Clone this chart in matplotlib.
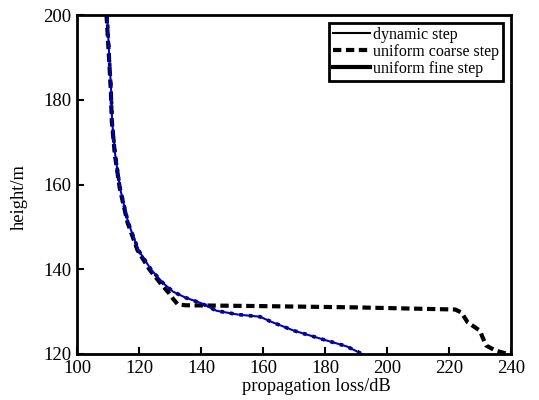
import matplotlib
matplotlib.use("Agg")
import matplotlib.pyplot as plt
from matplotlib.lines import Line2D

plt.rcParams["font.family"] = ["Liberation Serif", "DejaVu Serif"]

# propagation loss (dB) vs height (m)
dyn_loss = [109.7, 110.4, 111.0, 111.3, 112.3, 113.9, 116.5, 119.8, 124.0, 127.8,
            131.0, 135.0, 140.0, 145.0, 152.0, 159.0, 163.0, 170.0, 180.0, 187.0, 192.0]
dyn_height = [200, 190, 182, 175, 167, 159, 151, 144.5, 139.8, 136.7,
              134.7, 133.3, 132.0, 130.2, 129.3, 128.8, 127.5, 125.5, 123.3, 121.8, 120]

fine_loss = [109.7, 110.4, 111.0, 111.3, 112.3, 113.9, 116.5, 119.8, 124.0, 127.8,
             131.0, 135.0, 140.0, 145.0, 152.0, 159.0, 163.0, 170.0, 180.0, 187.0, 192.0]
fine_height = [200, 190, 182, 175, 167, 159, 151, 144.5, 139.8, 136.7,
               134.7, 133.3, 132.0, 130.2, 129.3, 128.8, 127.5, 125.5, 123.3, 121.8, 120]

coarse_loss = [109.5, 110.3, 110.9, 111.2, 112.2, 113.8, 116.3, 119.5, 123.3, 126.8,
               129.5, 131.0, 132.5, 135.0, 160.0, 190.0, 222.0, 224.0, 226.0, 230.0,
               230.8, 232.0, 235.0, 239.0]
coarse_height = [200, 190, 182, 175, 167, 159, 151, 144.5, 140, 136.8,
                 134.5, 133.0, 131.7, 131.5, 131.3, 131.0, 130.5, 129.8, 127.5, 125.5,
                 124, 122, 120.8, 120]

labels = ["dynamic step", "uniform coarse step", "uniform fine step"]

fig = plt.figure(figsize=(5.39, 4.0), dpi=100)
ax = fig.add_axes([0.143, 0.115, 0.805, 0.8475])

ax.plot(coarse_loss, coarse_height, color="black", lw=3, ls=(0, (2.0, 1.1)))
ax.plot(fine_loss, fine_height, color="black", lw=2.6, ls=":")
ax.plot(dyn_loss, dyn_height, color="#0000cc", lw=1.5)

ax.set_xlim(100, 240)
ax.set_ylim(120, 200)
ax.set_xticks(range(100, 241, 20))
ax.set_yticks(range(120, 201, 20))
ax.tick_params(direction="in", labelsize=13.5, width=1.5, length=5)
ax.tick_params(axis="x", pad=4)
ax.tick_params(axis="y", pad=4)
for s in ax.spines.values():
    s.set_linewidth(2)
ax.set_xlabel("propagation loss/dB", fontsize=13.3)
ax.set_ylabel("height/m", fontsize=13.3)
# labels sit off-centre in the reference
ax.xaxis.set_label_coords(0.551, -0.072)
ax.yaxis.set_label_coords(-0.113, 0.464)

handles = [
    Line2D([], [], color="black", lw=1.5),
    Line2D([], [], color="black", lw=3, ls=(0, (2.0, 1.1))),
    Line2D([], [], color="black", lw=3),
]
leg = ax.legend(handles, labels, loc="upper right", fontsize=11.5,
                handlelength=2.3, handletextpad=0.2, borderpad=0.25,
                labelspacing=0.05, borderaxespad=0.5, fancybox=False,
                framealpha=1, edgecolor="black")
leg.get_frame().set_linewidth(2)

fig.savefig("out.png", dpi=100)
